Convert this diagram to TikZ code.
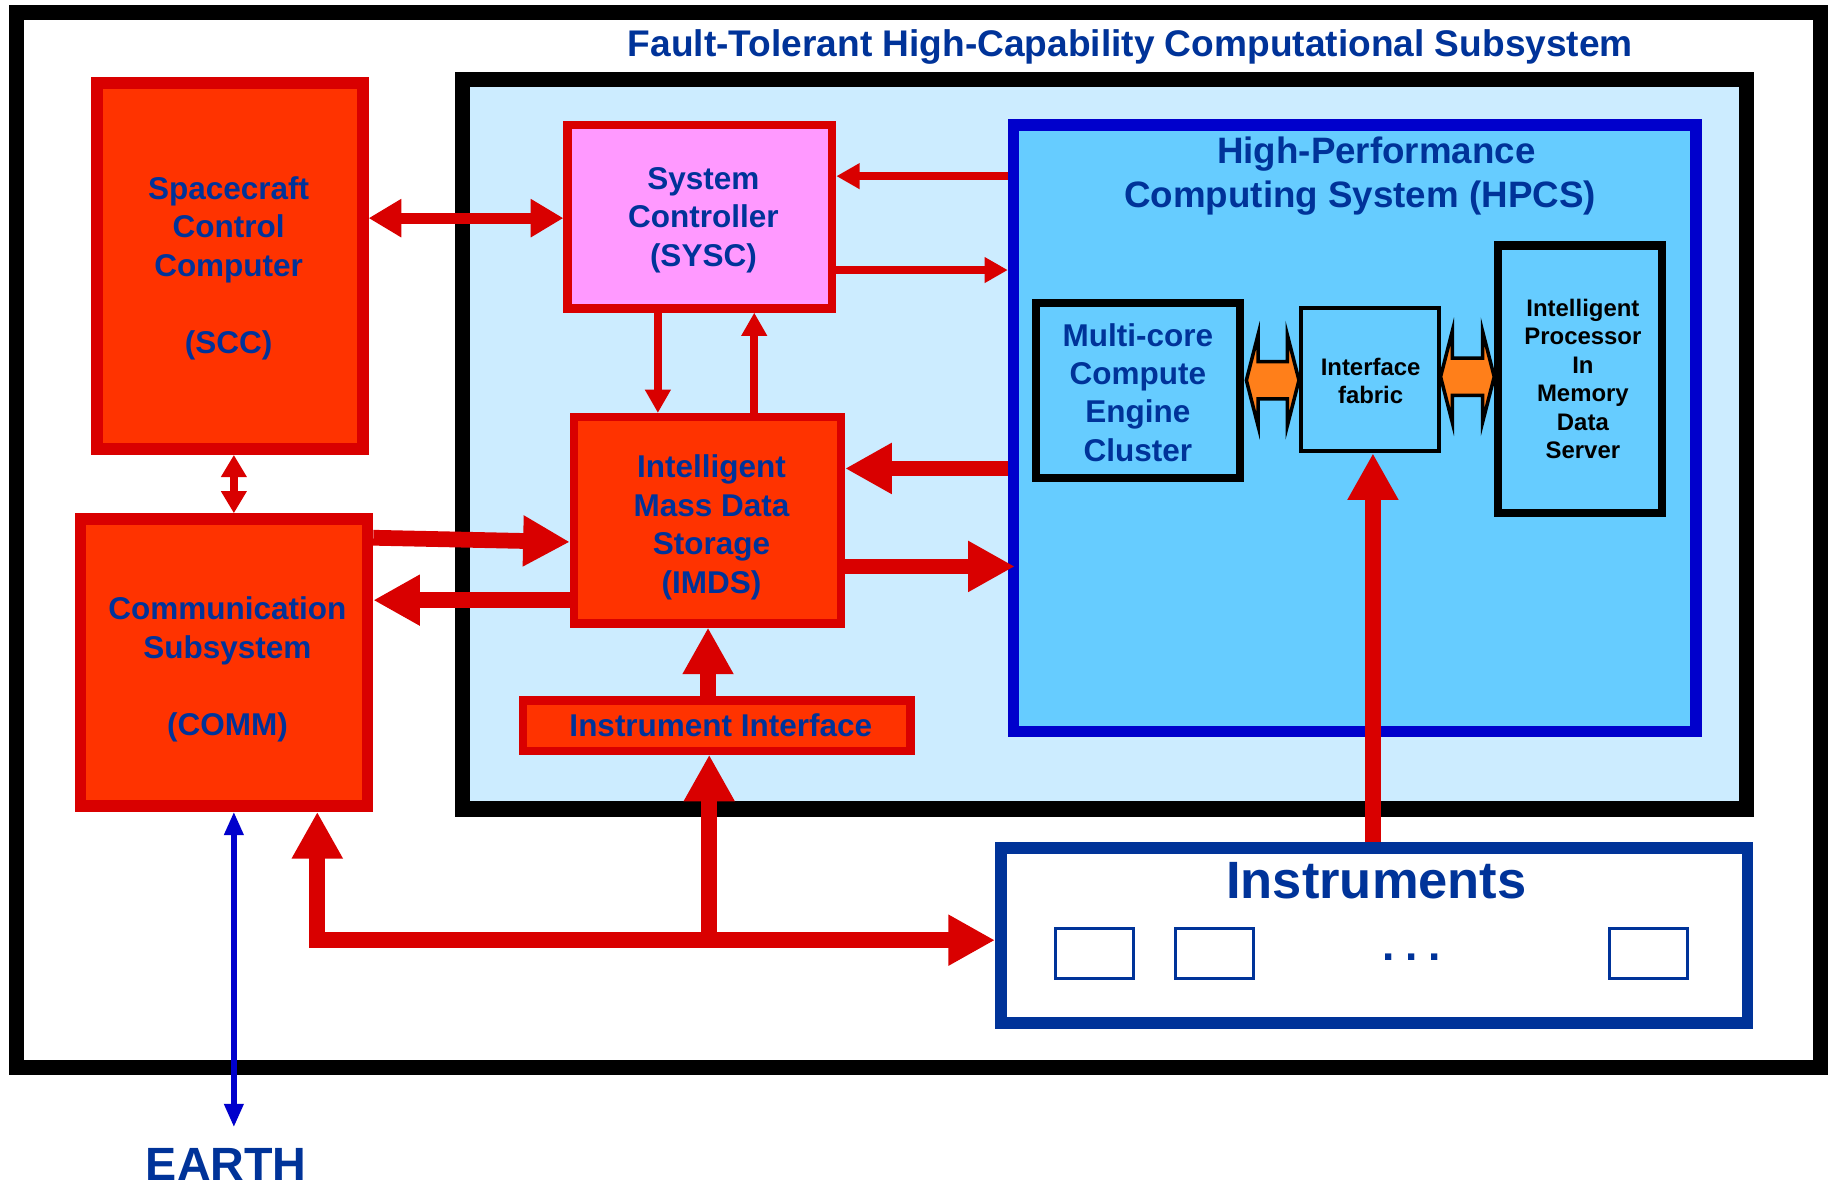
\documentclass[tikz,border=0pt]{standalone}
\usepackage{fontspec}
\setmainfont{Liberation Sans}
\usetikzlibrary{arrows.meta,calc}
\definecolor{tblue}{HTML}{003399}
\definecolor{rline}{HTML}{D90000}
\definecolor{rfill}{HTML}{FF3300}
\definecolor{pinkf}{HTML}{FF99FF}
\definecolor{lblue}{HTML}{CCECFF}
\definecolor{hfill}{HTML}{66CCFF}
\definecolor{hline}{HTML}{0000CC}
\definecolor{oarrow}{HTML}{FF7F1A}
\tikzset{
  redbox/.style={rectangle, draw=rline, fill=rfill, line width=10pt, inner sep=0pt},
  pinkbox/.style={rectangle, draw=rline, fill=pinkf, line width=7pt, inner sep=0pt},
  blkbox/.style={rectangle, draw=black, fill=hfill, line width=7pt, inner sep=0pt},
  smallbox/.style={rectangle, draw=tblue, fill=white, line width=2.5pt, inner sep=0pt, minimum width=67pt, minimum height=43pt},
  btxt/.style={font=\bfseries\fontsize{27}{33}\selectfont, text=tblue, align=center, inner sep=0pt},
  ktxt/.style={font=\bfseries\fontsize{20.5}{24.4}\selectfont, text=black, align=center, inner sep=0pt},
  thinarr/.style={rline, line width=6.6pt, -{Triangle[length=20pt,width=21pt]}},
  midarr/.style={rline, line width=9.5pt, {Triangle[length=28pt,width=31pt]}-{Triangle[length=28pt,width=31pt]}},
  thickarr/.style={rline, line width=13.5pt, -{Triangle[length=40pt,width=41pt]}},
  thickdbl/.style={rline, line width=13.5pt, line join=miter, {Triangle[length=40pt,width=41pt]}-{Triangle[length=40pt,width=41pt]}},
  smalldbl/.style={rline, line width=6.5pt, {Triangle[length=19pt,width=21pt]}-{Triangle[length=19pt,width=21pt]}},
  eartharr/.style={hline, line width=4.5pt, {Triangle[length=20pt,width=16pt]}-{Triangle[length=20pt,width=16pt]}},
  oarr/.style={draw=black, fill=oarrow, line width=3pt, line join=miter}
}
\begin{document}
\begin{tikzpicture}[x=1pt,y=-1pt]
\useasboundingbox[fill=white] (0,0) rectangle (1568,1018);

% outer frame and subsystem frame
\node[rectangle, draw=black, line width=13pt, inner sep=0pt, minimum width=1546pt, minimum height=905pt] (frame) at (787.5,463) {};
\node[rectangle, draw=black, fill=lblue, line width=13pt, inner sep=0pt, minimum width=1101pt, minimum height=625pt] (fthccs) at (947,381) {};
\node[font=\bfseries\fontsize{31.8}{36}\selectfont, text=tblue, inner sep=0pt, anchor=base] (title) at (969,48.6) {Fault-Tolerant High-Capability Computational Subsystem};

% left boxes
\node[redbox, minimum width=228pt, minimum height=314pt] (scc) at (197,228) {};
\node[btxt] (scctext) at (196,230) {Spacecraft\\Control\\Computer\\[33pt](SCC)};
\node[redbox, minimum width=246pt, minimum height=246pt] (comm) at (192,568) {};
\node[btxt] (commtext) at (195,574) {Communication\\Subsystem\\[33pt](COMM)};

% inner red/pink boxes
\node[pinkbox, minimum width=227pt, minimum height=157pt] (sysc) at (600,186) {};
\node[btxt] (sysctext) at (603,188.6) {System\\Controller\\(SYSC)};
\node[redbox, line width=7pt, minimum width=229pt, minimum height=177pt] (imds) at (606.5,446) {};
\node[btxt] (imdstext) at (610,452.2) {Intelligent\\Mass Data\\Storage\\(IMDS)};
\node[redbox, line width=7pt, minimum width=332pt, minimum height=43pt] (ii) at (614.5,622) {};
\node[btxt] (iitext) at (618,622) {Instrument Interface};

% HPCS
\node[rectangle, draw=hline, fill=hfill, line width=10pt, inner sep=0pt, minimum width=585pt, minimum height=520pt] (hpcs) at (1161.5,367) {};
\node[font=\bfseries\fontsize{31.5}{38}\selectfont, text=tblue, align=center, inner sep=0pt] (hpcstitle) at (1166,151) {\hspace*{28pt}High-Performance\\Computing System (HPCS)};
\node[blkbox, minimum width=175pt, minimum height=150pt] (mcec) at (975.5,335) {};
\node[btxt, font=\bfseries\fontsize{27}{32.7}\selectfont] (mcectext) at (975.5,336.6) {Multi-core\\Compute\\Engine\\Cluster};
\node[blkbox, line width=3.4pt, minimum width=118pt, minimum height=123.2pt] (fabric) at (1174.3,325.3) {};
\node[ktxt, font=\bfseries\fontsize{20.5}{24}\selectfont] (fabrictext) at (1175,326.8) {Interface\\fabric};
\node[blkbox, minimum width=140pt, minimum height=229pt] (ipim) at (1354.5,325) {};
\node[ktxt] (ipimtext) at (1357,325) {Intelligent\\Processor\\In\\Memory\\Data\\Server};

% Instruments
\node[rectangle, draw=tblue, fill=white, line width=10pt, inner sep=0pt, minimum width=640pt, minimum height=150pt] (instr) at (1178,802) {};
\node[font=\bfseries\fontsize{45}{50}\selectfont, text=tblue, inner sep=0pt] (instrtext) at (1180,755) {Instruments};
\node[smallbox] (ib1) at (938.5,817.5) {};
\node[smallbox] (ib2) at (1041.5,817.5) {};
\node[smallbox] (ib3) at (1413.5,817.5) {};
\node[font=\bfseries\fontsize{38}{40}\selectfont, text=tblue, inner sep=0pt] (dots) at (1210,821) {.\hspace{9pt}.\hspace{9pt}.};

% EARTH
\node[font=\bfseries\fontsize{40}{44}\selectfont, text=tblue, inner sep=0pt, outer sep=0pt] (earth) at (194,998) {EARTH};

% reference levels
\coordinate (l151) at (0,151);
\coordinate (l187) at (0,187);
\coordinate (l231) at (0,231.5);
\coordinate (l402) at (0,401.6);
\coordinate (l486) at (0,485.6);
\coordinate (l461) at (0,461);
\coordinate (l465) at (0,464.6);
\coordinate (l514) at (0,514.5);
\coordinate (c564) at (564,0);
\coordinate (c647) at (646.6,0);
\coordinate (c607) at (607,0);
\coordinate (c1177) at (1177,0);
\coordinate (c200) at (200.5,0);
\coordinate (buswest) at (272,806);
\coordinate (busmid) at (608,806);

% orange block arrows
\coordinate (oL) at ([xshift=2pt,yshift=9pt]mcec.east);
\coordinate (oR) at (fabric.west |- oL);
\draw[oarr] (oL) -- ++(10,-39) -- ++(0,23) -- ([xshift=-10pt,yshift=16pt]oR) -- ++(0,-23) -- (oR)
  -- ++(-10,39) -- ++(0,-23) -- ([xshift=10pt,yshift=-16pt]oL) -- ++(0,23) -- cycle;
\coordinate (pL) at ([yshift=2.3pt]fabric.east);
\coordinate (pR) at (ipim.west |- pL);
\draw[oarr] (pL) -- ++(10,-39) -- ++(0,23) -- ([xshift=-10pt,yshift=16pt]pR) -- ++(0,-23) -- (pR)
  -- ++(-10,39) -- ++(0,-23) -- ([xshift=10pt,yshift=-16pt]pL) -- ++(0,23) -- cycle;

% red connectors
\draw[midarr] (scc.east |- l187) -- (sysc.west |- l187);
\draw[thinarr] (hpcs.west |- l151) -- (sysc.east |- l151);
\draw[thinarr] (sysc.east |- l231) -- (hpcs.west |- l231);
\draw[thinarr] (sysc.south -| c564) -- (imds.north -| c564);
\draw[thinarr] (imds.north -| c647) -- (sysc.south -| c647);
\draw[thickarr] (hpcs.west |- l402) -- (imds.east |- l402);
\draw[thickarr, shorten >=-6pt] (imds.east |- l486) -- (hpcs.west |- l486);
\draw[thickarr] (comm.east |- l461) -- (imds.west |- l465);
\draw[thickarr] (imds.west |- l514) -- (comm.east |- l514);
\draw[thickarr] (ii.north -| c607) -- (imds.south -| c607);
\draw[thickdbl] (buswest |- comm.south) -- (buswest) -- (instr.west |- buswest);
\draw[thickarr] (busmid) -- (busmid |- ii.south);
\draw[thickarr] (instr.north -| c1177) -- (fabric.south -| c1177);
\draw[smalldbl] (scc.south -| c200) -- (comm.north -| c200);
\draw[eartharr, shorten >=18pt] (comm.south -| c200) -- (earth.north -| c200);
\end{tikzpicture}
\end{document}
